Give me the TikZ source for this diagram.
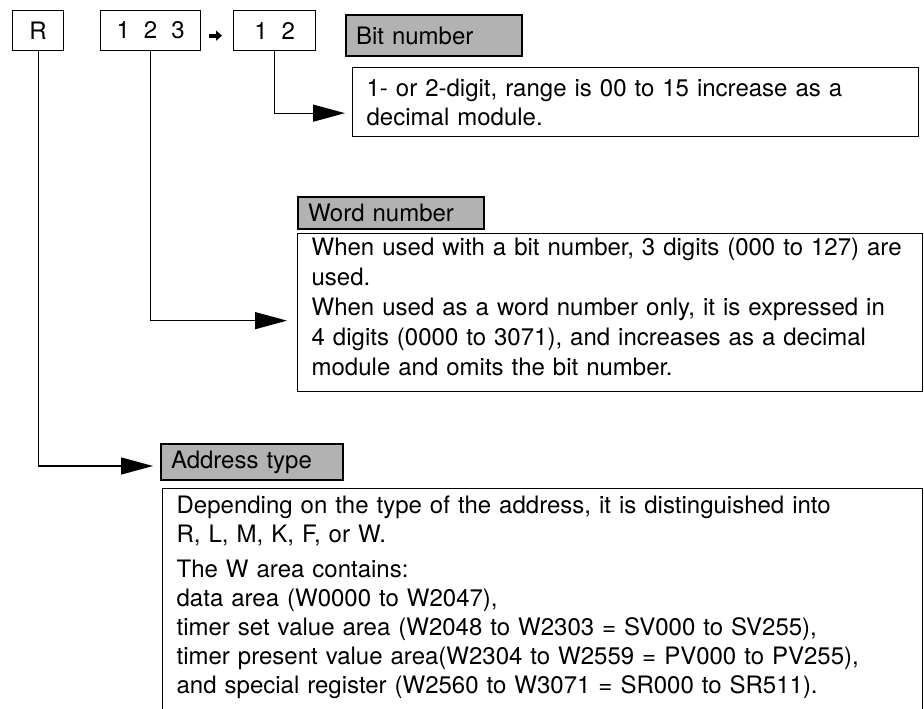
\documentclass[tikz,border=0pt]{standalone}
\usepackage{fontspec}
\setmainfont{TeX Gyre Heros}
\usetikzlibrary{arrows.meta,positioning}

\begin{document}
\begin{tikzpicture}[
  x=1pt, y=-1pt,
  digitbox/.style={rectangle, draw, line width=1.3pt, anchor=north west, minimum height=40pt, inner sep=0pt, font=\fontsize{24}{29}\selectfont},
  tagbox/.style={rectangle, draw, line width=2pt, fill=black!30, anchor=north west, inner xsep=10pt, inner ysep=0pt, align=left, font=\fontsize{24}{29}\selectfont},
  notebox/.style={rectangle, draw, line width=1.3pt, anchor=north west, inner xsep=14pt, inner ysep=0pt, align=left, font=\fontsize{24}{29}\selectfont},
  link/.style={line width=1.3pt, -{Triangle[length=32pt,width=17pt]}},
]
  \clip (0,0) rectangle (924,709);

  % address digits
  \node[digitbox, minimum width=51pt] (rtype) at (12,10) {R\hspace{8pt}};
  \node[digitbox, minimum width=100pt] (wordno) at (100,10) {1\hspace{14pt}2\hspace{14pt}3};
  \node[digitbox, minimum width=82pt] (bitno) at (233,10) {1\hspace{14pt}2\hspace{8pt}};
  \draw[line width=4pt, -{Triangle[length=6pt,width=10pt]}] ([xshift=8pt,yshift=-5pt]wordno.east) -- ([xshift=-11pt,yshift=-5pt]bitno.west);

  % bit number
  \node[tagbox, text width=156pt, minimum height=41pt] (bittag) at (345,14) {Bit number};
  \node[notebox, text width=538pt, text height=29pt, text depth=40pt] (bitnote) at (352,67)
    {1- or 2-digit, range is 00 to 15 increase as a\\decimal module.};

  % word number
  \node[tagbox, text width=166pt, minimum height=32pt] (wordtag) at (297,196) {Word number};
  \node[notebox, text width=597pt, text height=22pt, text depth=136pt,
        font=\fontsize{24}{30}\selectfont] (wordnote) at (297,233)
    {When used with a bit number, 3 digits (000 to 127) are\\used.\\When used as a word number only, it is expressed in\\4 digits (0000 to 3071), and increases as a decimal\\module and omits the bit number.};

  % address type
  \node[tagbox, text width=162pt, minimum height=36pt] (rtag) at (160,443) {Address type};
  \node[notebox, text width=732pt, text height=25pt, text depth=240pt] (rnote) at (162,488)
    {Depending on the type of the address, it is distinguished into\\R, L, M, K, F, or W.\\[6pt]The W area contains:\\data area (W0000 to W2047),\\timer set value area (W2048 to W2303 = SV000 to SV255),\\timer present value area(W2304 to W2559 = PV000 to PV255),\\and special register (W2560 to W3071 = SR000 to SR511).};

  \draw[link, shorten >=7pt] (bitno.south) |- ([yshift=-11pt]bitnote.west);
  \draw[link, shorten >=10pt] (wordno.south) |- ([yshift=-8pt]wordnote.west);
  \draw[link, shorten >=7pt] (rtype.south) |- ([yshift=-4pt]rtag.west);
\end{tikzpicture}
\end{document}
